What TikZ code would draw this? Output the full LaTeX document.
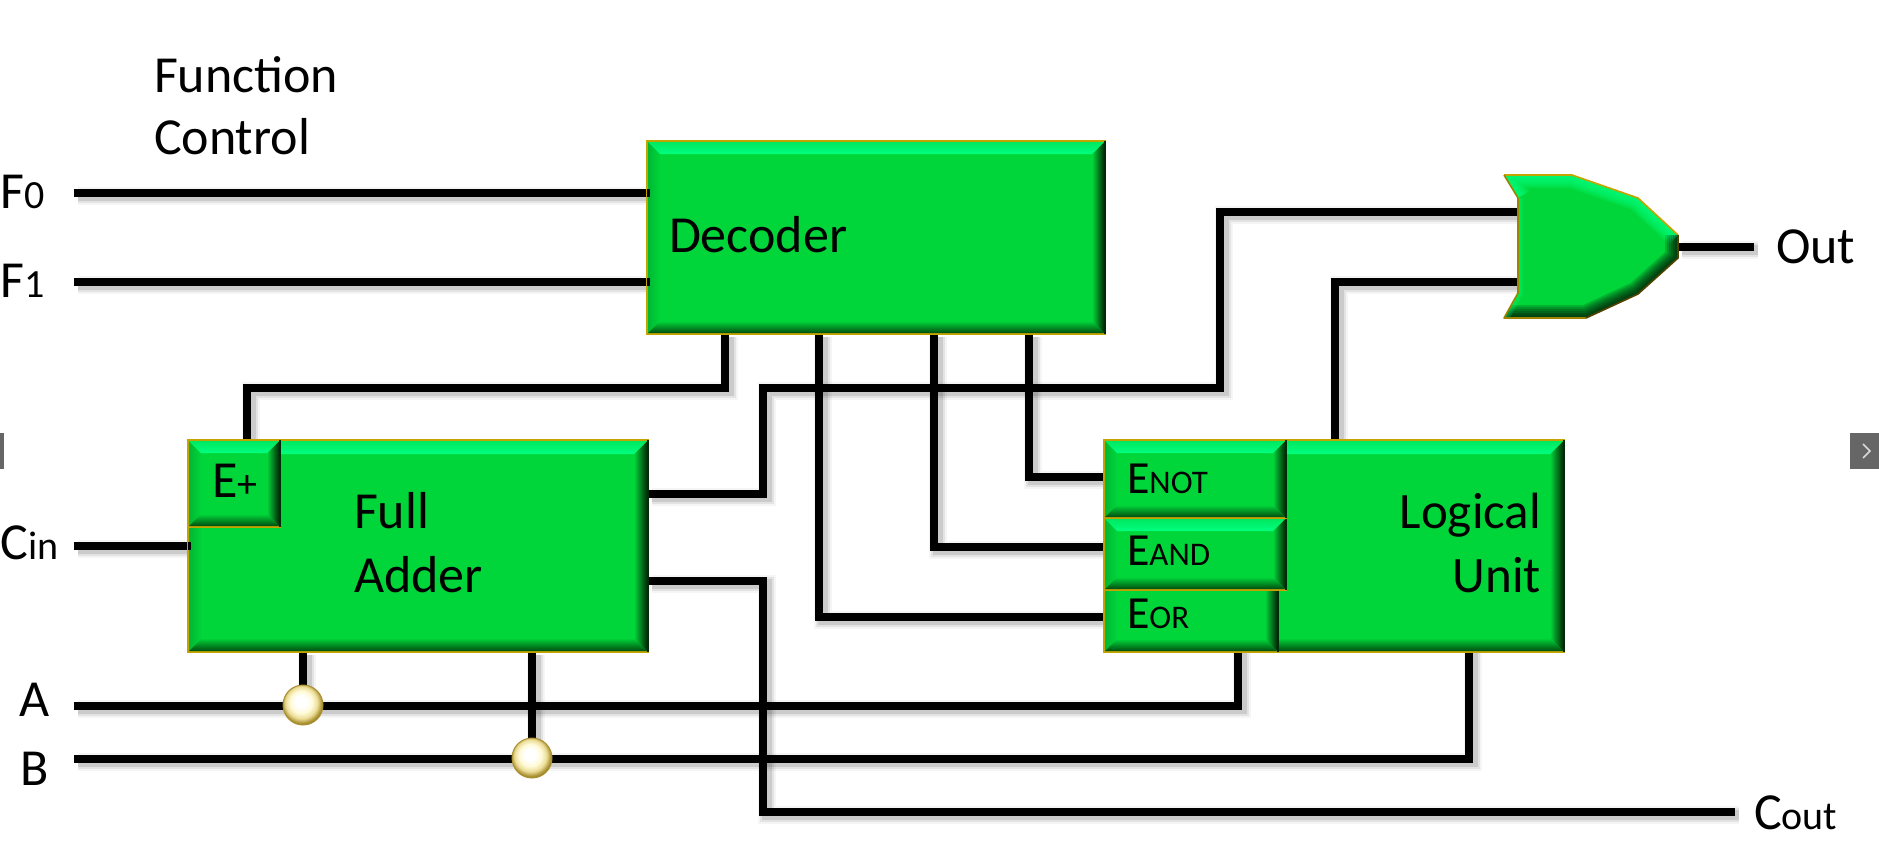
\documentclass[tikz,border=0pt]{standalone}
\usepackage{fontspec}
\setmainfont{Carlito}
\usetikzlibrary{calc}
\pgfdeclarelayer{wires}
\pgfsetlayers{wires,main}
\definecolor{gmain}{HTML}{00D639}
\definecolor{glite}{HTML}{00FF80}
\definecolor{gtop}{HTML}{00E860}
\definecolor{gleft}{HTML}{00B834}
\definecolor{gbot}{HTML}{004D10}
\definecolor{gright}{HTML}{002B08}
\definecolor{gold}{HTML}{C4A400}
\definecolor{navgrey}{HTML}{666666}
\definecolor{pearlA}{HTML}{FFFAD7}
\definecolor{pearlB}{HTML}{EBDC96}
\definecolor{pearlC}{HTML}{AA9132}
\definecolor{pearlD}{HTML}{6E5A14}
\pgfdeclareradialshading{pearl}{\pgfpoint{-3bp}{5bp}}{color(0bp)=(white);color(7bp)=(white);color(14bp)=(pearlA);color(20bp)=(pearlB);color(25bp)=(pearlC);color(32bp)=(pearlD);color(50bp)=(pearlD)}
\tikzset{
  x=1pt,y=-1pt,
  boxbase/.style={rectangle,draw=gold,line width=1.6pt,fill=gmain,inner sep=0,outer sep=0},
  wire/.style={line width=8pt,draw=black,line join=miter,
    preaction={draw=black,opacity=.04,line width=18pt,transform canvas={xshift=4pt,yshift=-3pt}},
    preaction={draw=black,opacity=.07,line width=14pt,transform canvas={xshift=4pt,yshift=-3pt}},
    preaction={draw=black,opacity=.10,line width=10pt,transform canvas={xshift=4pt,yshift=-3pt}}},
  lab/.style={inner sep=0,outer sep=0,text=black,font=\fontsize{52}{60}\selectfont},
  sub/.style={inner sep=0,outer sep=0,text=black,font=\fontsize{46}{55}\selectfont},
  outer/.style={inner sep=0,outer sep=0,text=black,font=\fontsize{52}{60}\selectfont},
  pearlball/.style={circle,minimum size=40pt,inner sep=0,shading=pearl,draw=pearlC,line width=1pt},
  navbox/.style={fill=navgrey,draw=none,inner sep=0,outer sep=0},
}
\newcommand{\SC}[2]{#1{\fontsize{33}{40}\selectfont #2}}
\newcommand{\SCL}[2]{#1{\fontsize{40}{48}\selectfont #2}}
% name, x1, y1, x2, y2, bevel
\newcommand{\bevbox}[6]{%
  \pgfmathsetmacro{\bw}{#4-#2}\pgfmathsetmacro{\bh}{#5-#3}%
  \pgfmathsetmacro{\cx}{(#2+#4)/2}\pgfmathsetmacro{\cy}{(#3+#5)/2}%
  \node[boxbase,minimum width=\bw pt,minimum height=\bh pt] (#1) at (\cx,\cy) {};
  \coordinate (#1nw) at ($(#1.north west)+(1,1)$);
  \coordinate (#1ne) at ($(#1.north east)+(-1,1)$);
  \coordinate (#1sw) at ($(#1.south west)+(1,-1)$);
  \coordinate (#1se) at ($(#1.south east)+(-1,-1)$);
  \coordinate (#1inw) at ($(#1nw)+(#6,#6)$);
  \coordinate (#1ine) at ($(#1ne)+(-#6,#6)$);
  \coordinate (#1isw) at ($(#1sw)+(#6,-#6)$);
  \coordinate (#1ise) at ($(#1se)+(-#6,-#6)$);
  \shade[left color=gleft,right color=gmain] (#1nw) -- (#1inw) -- (#1isw) -- (#1sw) -- cycle;
  \shade[left color=gmain,right color=gright] (#1ne) -- (#1ine) -- (#1ise) -- (#1se) -- cycle;
  \shade[top color=gtop,bottom color=glite] (#1nw) -- (#1ne) -- (#1ine) -- (#1inw) -- cycle;
  \shade[top color=gmain,bottom color=gbot] (#1sw) -- (#1se) -- (#1ise) -- (#1isw) -- cycle;
  \draw[gright,line width=1.4pt] (#1.north east) -- (#1.south east);
}
\begin{document}
\begin{tikzpicture}
\useasboundingbox (0,0) rectangle (1879,854);
\begin{pgfonlayer}{wires}
\fill[white] (0,0) rectangle (1879,854);
\end{pgfonlayer}

% navigation tabs at the edges
\node[navbox,minimum width=4pt,minimum height=36pt] (navl) at (2,451) {};
\node[navbox,minimum width=29pt,minimum height=36pt] (navr) at (1864.5,451) {};
\draw[white!85!black,line width=1.6pt] ($(navr)+(-1.5,-7)$) -- ($(navr)+(5.5,0)$) -- ($(navr)+(-1.5,7)$);

% boxes
\bevbox{dec}{647}{141}{1105}{334}{12}
\bevbox{fa}{188}{440}{648}{652}{13}
\bevbox{ep}{188}{440}{280}{527}{12}
\bevbox{lu}{1104}{440}{1564}{652}{13}
\bevbox{eor}{1104}{575}{1278}{652}{12}
\bevbox{eand}{1104}{518}{1286}{590}{12}
\bevbox{enot}{1104}{440}{1286}{518}{12}

% OR gate
\coordinate (g1) at (1504,175);
\coordinate (g2) at (1572,175);
\coordinate (g3) at (1638,198);
\coordinate (g4) at (1678,235);
\coordinate (g5) at (1678,258);
\coordinate (g6) at (1638,294);
\coordinate (g7) at (1586,318);
\coordinate (g8) at (1504,318);
\coordinate (g9) at (1518,293);
\coordinate (g10) at (1518,198);
\begin{scope}
\clip (g1) -- (g2) -- (g3) -- (g4) -- (g5) -- (g6) -- (g7) -- (g8) -- (g9) -- (g10) -- cycle;
\fill[gmain] (1500,170) rectangle (1680,320);
\foreach \w in {26,22,18,14,10,6} {
  \draw[glite,opacity=.22,line width=\w pt,line join=miter] (g10) -- (g1) -- (g2) -- (g3) -- (g4);
  \draw[black,opacity=.17,line width=\w pt,line join=miter] (g4) -- (g5) -- (g6) -- (g7) -- (g8);
}
\foreach \w in {10,6} {\draw[glite,opacity=.2,line width=\w pt] (g8) -- (g9) -- (g10);}
\end{scope}
\draw[gold,line width=1.6pt,line join=round] (g1) -- (g2) -- (g3) -- (g4);
\draw[gold!80!black,line width=1.6pt,line join=round] (g7) -- (g8) -- (g9) -- (g10) -- (g1);
\draw[gold!40!black,line width=1.6pt] (g4) -- (g5) -- (g6) -- (g7);

% free ends
\coordinate (pf0) at (74,193);
\coordinate (pf1) at (74,282);
\coordinate (pcin) at (74,546);
\coordinate (pa) at (74,706);
\coordinate (pb) at (74,759);
\coordinate (pout) at (1754,247);
\coordinate (pcout) at (1735,812);

\node[pearlball] (ba) at (303,705) {};
\node[pearlball] (bb) at (532,758) {};

\begin{pgfonlayer}{wires}
\draw[wire] (pf0) -- (pf0 -| dec.west);
\draw[wire] (pf1) -- (pf1 -| dec.west);
\draw[wire] (pcin) -- (pcin -| fa.west);
\draw[wire] (pa) -- (1238,706) -- (1238,650);
\draw[wire] (pb) -- (1469,759) -- (1469,650);
\draw[wire] (ba) -- (ba |- fa.south);
\draw[wire] (bb) -- (bb |- fa.south);
\draw[wire] (g4 |- pout) -- (pout);
\draw[wire] (725,334) -- (725,388) -- (247,388) -- (247,440);
\draw[wire] (819,334) -- (819,617) -- (1104,617);
\draw[wire] (934,334) -- (934,547) -- (1104,547);
\draw[wire] (1029,334) -- (1029,477) -- (1104,477);
\draw[wire] (648,494) -- (763,494) -- (763,388) -- (1220,388) -- (1220,212) -- (1520,212);
\draw[wire] (648,581) -- (763,581) -- (763,812) -- (pcout);
\draw[wire] (1335,440) -- (1335,282) -- (1520,282);
\end{pgfonlayer}
% stubs reaching into the boxes
\draw[line width=8pt] (pf0 -| dec.west) -- ++(3,0);
\draw[line width=8pt] (pf1 -| dec.west) -- ++(3,0);
\draw[line width=8pt] (pcin -| fa.west) -- ++(3,0);

% texts
\node[lab,anchor=base west] (tf1) at (154,92) {Function};
\node[lab,anchor=base west] (tf2) at (154,154) {Control};
\node[outer,anchor=base west] (tf0) at (1,208) {\SCL{F}{0}};
\node[outer,anchor=base west] (tf11) at (1,297) {\SCL{F}{1}};
\node[outer,anchor=base west] (tcin) at (1,559) {\SCL{C}{in}};
\node[lab,anchor=base] (ta) at (35,716) {A};
\node[lab,anchor=base] (tb) at (35,785) {B};
\node[outer,anchor=base] (tep) at (235,497) {\SCL{E}{+}};
\node[lab,anchor=base west] (tfull) at (354,528) {Full};
\node[lab,anchor=base west] (tadd) at (354,592) {Adder};
\node[lab,anchor=base west] (tdec) at (669,252) {Decoder};
\node[lab,anchor=base east,font=\fontsize{51}{60}\selectfont] (tlog) at (1541,528) {Logical};
\node[lab,anchor=base east,font=\fontsize{51}{60}\selectfont] (tunit) at (1541,592) {Unit};
\node[sub,anchor=base west] (tnot) at (1127,493) {\SC{E}{NOT}};
\node[sub,anchor=base west] (tand) at (1127,565) {\SC{E}{AND}};
\node[sub,anchor=base west] (tor) at (1127,628) {\SC{E}{OR}};
\node[lab,anchor=base west] (tout) at (1776,263) {Out};
\node[outer,anchor=base west] (tcout) at (1754,829) {\SCL{C}{out}};
\end{tikzpicture}
\end{document}
